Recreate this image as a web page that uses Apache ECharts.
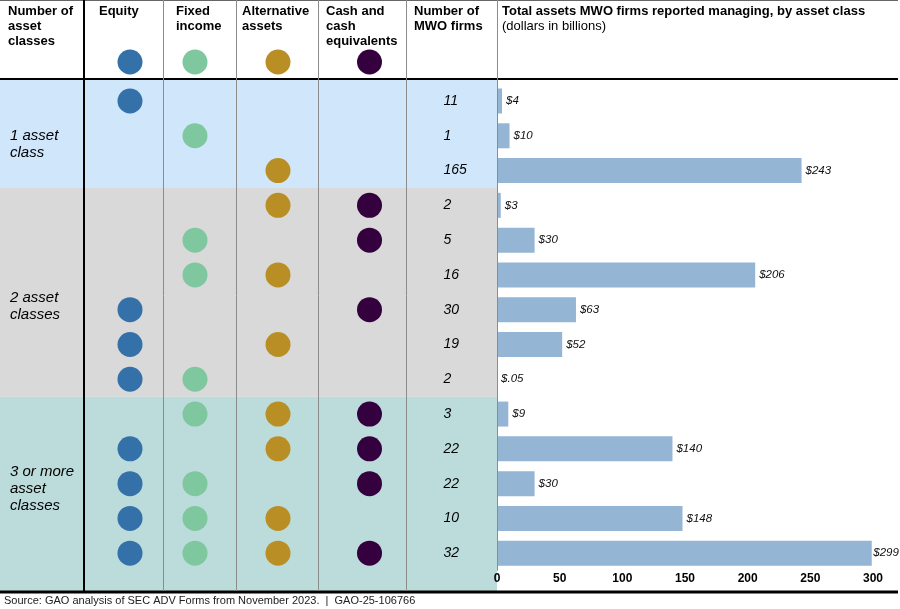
<!DOCTYPE html>
<html><head><meta charset="utf-8">
<script src="https://cdn.jsdelivr.net/npm/echarts@6/dist/echarts.min.js"></script>
<style>html,body{margin:0;padding:0;background:#fff}#c{width:900px;height:609px}</style>
</head><body><div id="c"></div>
<script>
// ---------- data ----------
const assetClasses = ['Equity', 'Fixed income', 'Alternative assets', 'Cash and cash equivalents'];
const equity      = [1,0,0,0,0,0,1,1,1,0,1,1,1,1];
const fixedIncome = [0,1,0,0,1,1,0,0,1,1,0,1,1,1];
const alternative = [0,0,1,1,0,1,0,1,0,1,1,0,1,1];
const cash        = [0,0,0,1,1,0,1,0,0,1,1,1,0,1];
const firms  = [11,1,165,2,5,16,30,19,2,3,22,22,10,32];
const assets = [4,10,243,3,30,206,63,52,0.05,9,140,30,148,299];
const assetLabels = ['$4','$10','$243','$3','$30','$206','$63','$52','$.05','$9','$140','$30','$148','$299'];
const groupNames = ['1 asset\nclass', '2 asset\nclasses', '3 or more\nasset\nclasses'];
const groupSizes = [3, 6, 5];
const xTicks = [0, 50, 100, 150, 200, 250, 300];

// ---------- layout ----------
const FONT = '"Liberation Sans", Arial, sans-serif';
const colEdges = [0, 84, 163, 236, 318, 406, 497];
const dotX = [130, 195, 278, 369.5];
const numX = 443;
const dotColors = ['#3571a9', '#7fc79f', '#b98f25', '#34003d'];
const bandColors = ['#d0e6fb', '#d9d9d9', '#bcdcdb'];
const HEADER_Y = 79, FOOTER_Y = 592;
const GRID_TOP = 83.6, GRID_H = 487;
const rowIds = firms.map((_, i) => 'r' + i);
const flags = [equity, fixedIncome, alternative, cash];

const groupStart = [];
{ let s = 0; groupSizes.forEach(n => { groupStart.push(s); s += n; }); }

const dotSeries = flags.map((f, k) => ({
  type: 'scatter', xAxisIndex: 1, yAxisIndex: 1, z: 5,
  symbolSize: 25, itemStyle: { color: dotColors[k], opacity: 1 },
  data: f.map((v, i) => v ? [dotX[k], i] : null).filter(d => d),
  silent: true
}));

const headerTexts = [
  { x: 8, t: 'Number of\nasset\nclasses' },
  { x: 99, t: 'Equity' },
  { x: 176, t: 'Fixed\nincome' },
  { x: 242, t: 'Alternative\nassets' },
  { x: 326, t: 'Cash and\ncash\nequivalents' },
  { x: 414, t: 'Number of\nMWO firms' }
];
const groupLabelTop = [127.5, 289.5, 463.5];

const graphics = [];
// lines
graphics.push({ type: 'line', z: 100, shape: { x1: 0, y1: 0.5, x2: 898, y2: 0.5 }, style: { stroke: '#666', lineWidth: 1 } });
graphics.push({ type: 'line', z: 100, shape: { x1: 0, y1: HEADER_Y, x2: 898, y2: HEADER_Y }, style: { stroke: '#000', lineWidth: 2 } });
graphics.push({ type: 'line', z: 100, shape: { x1: 0, y1: FOOTER_Y, x2: 898, y2: FOOTER_Y }, style: { stroke: '#000', lineWidth: 3 } });
graphics.push({ type: 'line', z: 100, shape: { x1: colEdges[1], y1: 0, x2: colEdges[1], y2: FOOTER_Y }, style: { stroke: '#000', lineWidth: 2 } });
[2,3,4,5].forEach(i => graphics.push({ type: 'line', z: 100, shape: { x1: colEdges[i] + 0.5, y1: 0, x2: colEdges[i] + 0.5, y2: FOOTER_Y - 1 }, style: { stroke: '#8c8c8c', lineWidth: 1 } }));
graphics.push({ type: 'line', z: 100, shape: { x1: colEdges[6] + 0.5, y1: 0, x2: colEdges[6] + 0.5, y2: GRID_TOP + GRID_H }, style: { stroke: '#8c8c8c', lineWidth: 1 } });
// header texts
headerTexts.forEach(h => graphics.push({ type: 'text', z: 100, x: h.x, y: 4,
  style: { text: h.t, font: 'bold 13px ' + FONT, lineHeight: 15, fill: '#000', verticalAlign: 'top', align: 'left' } }));
graphics.push({ type: 'text', z: 100, x: 502, y: 4,
  style: { text: 'Total assets MWO firms reported managing, by asset class', font: 'bold 13px ' + FONT, lineHeight: 15, fill: '#000', verticalAlign: 'top' } });
graphics.push({ type: 'text', z: 100, x: 502, y: 19,
  style: { text: '(dollars in billions)', font: '13px ' + FONT, lineHeight: 15, fill: '#000', verticalAlign: 'top' } });
// header dots
dotX.forEach((x, k) => graphics.push({ type: 'circle', z: 100, shape: { cx: x, cy: 62, r: 12.5 }, style: { fill: dotColors[k] } }));
// group labels
groupNames.forEach((g, i) => graphics.push({ type: 'text', z: 100, x: 10, y: groupLabelTop[i],
  style: { text: g, font: 'italic 15px ' + FONT, lineHeight: 17, fill: '#000', verticalAlign: 'top' } }));
// source
graphics.push({ type: 'text', z: 100, x: 4, y: 601,
  style: { text: 'Source: GAO analysis of SEC ADV Forms from November 2023.  |  GAO-25-106766', font: '11px ' + FONT, fill: '#222', verticalAlign: 'middle' } });

const option = {
  animation: false,
  backgroundColor: '#fff',
  grid: [
    { left: 497, right: 27, top: GRID_TOP, height: GRID_H },
    { left: 0, width: 497, top: GRID_TOP, height: GRID_H }
  ],
  xAxis: [
    { gridIndex: 0, type: 'value', min: 0, max: 300, interval: 50, z: 20,
      axisLine: { show: false }, axisTick: { show: false }, splitLine: { show: false },
      axisLabel: { color: '#000', fontWeight: 'bold', fontSize: 12, fontFamily: FONT, margin: 2 } },
    { gridIndex: 1, type: 'value', min: 0, max: 497, show: false }
  ],
  yAxis: [
    { gridIndex: 0, type: 'category', data: rowIds, inverse: true,
      axisLine: { show: false }, axisTick: { show: false }, axisLabel: { show: false } },
    { gridIndex: 1, type: 'category', data: rowIds, inverse: true, show: false }
  ],
  series: [
    { type: 'custom', xAxisIndex: 1, yAxisIndex: 1, z: 1, silent: true,
      data: groupSizes.map((n, i) => [0, groupStart[i]]),
      renderItem: (params, api) => {
        const i = params.dataIndex;
        const s = groupStart[i], e = s + groupSizes[i] - 1;
        const h = api.size([0, 1])[1];
        const p0 = api.coord([0, s]), p1 = api.coord([497, e]);
        let top = p0[1] - h / 2, bot = p1[1] + h / 2;
        if (i === 0) top = HEADER_Y;
        if (i === groupSizes.length - 1) bot = FOOTER_Y;
        return { type: 'rect', shape: { x: p0[0], y: top, width: p1[0] - p0[0], height: bot - top },
          style: { fill: bandColors[i] } };
      } },
    ...dotSeries,
    { type: 'scatter', xAxisIndex: 1, yAxisIndex: 1, z: 6, silent: true,
      symbolSize: 1, itemStyle: { color: 'rgba(0,0,0,0)', opacity: 1 },
      data: firms.map((f, i) => [numX, i, f]),
      label: { show: true, position: 'right', distance: 0, formatter: p => String(p.value[2]),
        color: '#000', fontSize: 14, fontStyle: 'italic', fontFamily: FONT } },
    { type: 'bar', xAxisIndex: 0, yAxisIndex: 0, z: 3, silent: true,
      barWidth: 25, itemStyle: { color: '#94b5d3' },
      data: assets.map(v => v >= 290 ? { value: v, label: { distance: 1.5 } } : v),
      label: { show: true, position: 'right', distance: 4, formatter: p => assetLabels[p.dataIndex],
        color: '#111', fontSize: 11.5, fontStyle: 'italic', fontFamily: FONT } }
  ],
  graphic: { elements: graphics }
};
const chart = echarts.init(document.getElementById('c'), null, { renderer: 'canvas' });
chart.setOption(option);
</script></body></html>
